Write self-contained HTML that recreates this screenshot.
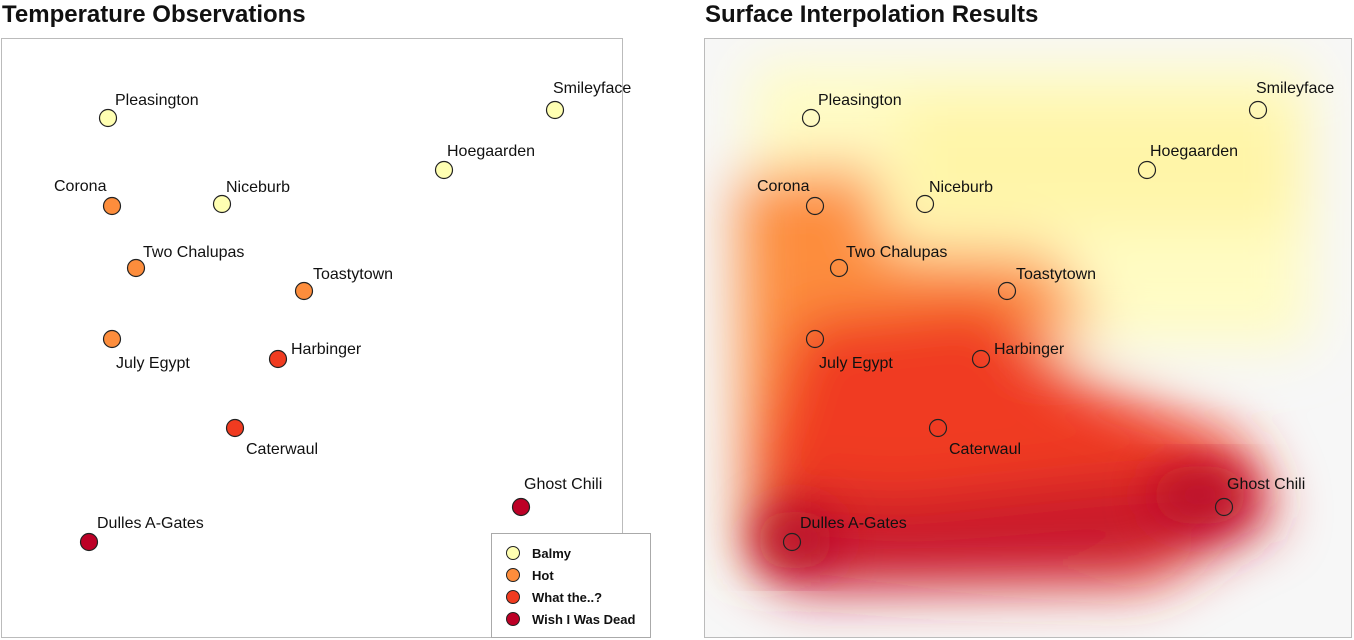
<!DOCTYPE html>
<html><head><meta charset="utf-8"><style>
html,body{margin:0;padding:0;background:#fff;}
svg{display:block;font-family:"Liberation Sans",sans-serif;}
.t{font-size:24px;font-weight:bold;fill:#111;}
.l{font-size:16px;fill:#111;}
.lg{font-size:13px;font-weight:bold;fill:#111;}
</style></head><body>
<svg width="1354" height="640" viewBox="0 0 1354 640">
<defs>
<filter id="b" x="-20%" y="-20%" width="140%" height="140%"><feGaussianBlur stdDeviation="28"/></filter>
<filter id="b2" x="-20%" y="-20%" width="140%" height="140%"><feGaussianBlur stdDeviation="22"/></filter>
<clipPath id="c"><rect x="705" y="39" width="646" height="598"/></clipPath>
</defs>
<text x="2" y="22" class="t">Temperature Observations</text>
<text x="705" y="22" class="t">Surface Interpolation Results</text>
<rect x="1.5" y="38.5" width="621" height="599" fill="#fff" stroke="#bbb"/>
<rect x="704.5" y="38.5" width="647" height="599" fill="#f7f7f7" stroke="#bbb"/>
<g clip-path="url(#c)">
<g filter="url(#b)">
<rect x="750" y="65" width="560" height="280" fill="#fffcc4"/>
<rect x="900" y="100" width="400" height="130" fill="#fff5a8"/>
<polygon points="738,175 870,165 890,250 1050,255 1100,330 900,340 880,560 745,560" fill="#fd8d3c"/>
<polygon points="800,320 990,300 1080,380 1240,440 1275,515 1150,585 790,590 755,470" fill="#f03b20"/>
<polygon points="760,490 900,500 1100,480 1240,470 1270,525 1120,575 800,590 760,570" fill="#c8142a"/>
</g>
<g filter="url(#b2)">
<ellipse cx="795" cy="540" rx="40" ry="30" fill="#bb0c2a"/>
<ellipse cx="1200" cy="495" rx="50" ry="30" fill="#bb0c2a"/>
</g>
</g>
<g stroke="#222" stroke-width="1.2">
<circle cx="108" cy="118" r="8.5" fill="#ffffb2"/>
<circle cx="555" cy="110" r="8.5" fill="#ffffb2"/>
<circle cx="444" cy="170" r="8.5" fill="#ffffb2"/>
<circle cx="112" cy="206" r="8.5" fill="#fd8d3c"/>
<circle cx="222" cy="204" r="8.5" fill="#ffffb2"/>
<circle cx="136" cy="268" r="8.5" fill="#fd8d3c"/>
<circle cx="304" cy="291" r="8.5" fill="#fd8d3c"/>
<circle cx="112" cy="339" r="8.5" fill="#fd8d3c"/>
<circle cx="278" cy="359" r="8.5" fill="#f03b20"/>
<circle cx="235" cy="428" r="8.5" fill="#f03b20"/>
<circle cx="521" cy="507" r="8.5" fill="#bd0026"/>
<circle cx="89" cy="542" r="8.5" fill="#bd0026"/>
</g>
<g transform="translate(703,0)" stroke="#222" stroke-width="1.2" fill="none">
<circle cx="108" cy="118" r="8.5"/><circle cx="555" cy="110" r="8.5"/><circle cx="444" cy="170" r="8.5"/>
<circle cx="112" cy="206" r="8.5"/><circle cx="222" cy="204" r="8.5"/><circle cx="136" cy="268" r="8.5"/>
<circle cx="304" cy="291" r="8.5"/><circle cx="112" cy="339" r="8.5"/><circle cx="278" cy="359" r="8.5"/>
<circle cx="235" cy="428" r="8.5"/><circle cx="521" cy="507" r="8.5"/><circle cx="89" cy="542" r="8.5"/>
</g>
<g>
<text x="115" y="105" class="l">Pleasington</text>
<text x="553" y="93" class="l">Smileyface</text>
<text x="447" y="156" class="l">Hoegaarden</text>
<text x="54" y="191" class="l">Corona</text>
<text x="226" y="192" class="l">Niceburb</text>
<text x="143" y="257" class="l">Two Chalupas</text>
<text x="313" y="279" class="l">Toastytown</text>
<text x="116" y="368" class="l">July Egypt</text>
<text x="291" y="354" class="l">Harbinger</text>
<text x="246" y="454" class="l">Caterwaul</text>
<text x="524" y="489" class="l">Ghost Chili</text>
<text x="97" y="528" class="l">Dulles A-Gates</text>
</g>
<g transform="translate(703,0)">
<text x="115" y="105" class="l">Pleasington</text>
<text x="553" y="93" class="l">Smileyface</text>
<text x="447" y="156" class="l">Hoegaarden</text>
<text x="54" y="191" class="l">Corona</text>
<text x="226" y="192" class="l">Niceburb</text>
<text x="143" y="257" class="l">Two Chalupas</text>
<text x="313" y="279" class="l">Toastytown</text>
<text x="116" y="368" class="l">July Egypt</text>
<text x="291" y="354" class="l">Harbinger</text>
<text x="246" y="454" class="l">Caterwaul</text>
<text x="524" y="489" class="l">Ghost Chili</text>
<text x="97" y="528" class="l">Dulles A-Gates</text>
</g>
<rect x="491.5" y="533.5" width="159" height="104" fill="#fff" stroke="#aaa"/>
<g stroke="#222" stroke-width="1">
<circle cx="513" cy="553" r="6.5" fill="#ffffb2"/>
<circle cx="513" cy="575" r="6.5" fill="#fd8d3c"/>
<circle cx="513" cy="597" r="6.5" fill="#f03b20"/>
<circle cx="513" cy="619" r="6.5" fill="#bd0026"/>
</g>
<text x="532" y="558" class="lg">Balmy</text>
<text x="532" y="580" class="lg">Hot</text>
<text x="532" y="602" class="lg">What the..?</text>
<text x="532" y="624" class="lg">Wish I Was Dead</text>
</svg>
</body></html>
